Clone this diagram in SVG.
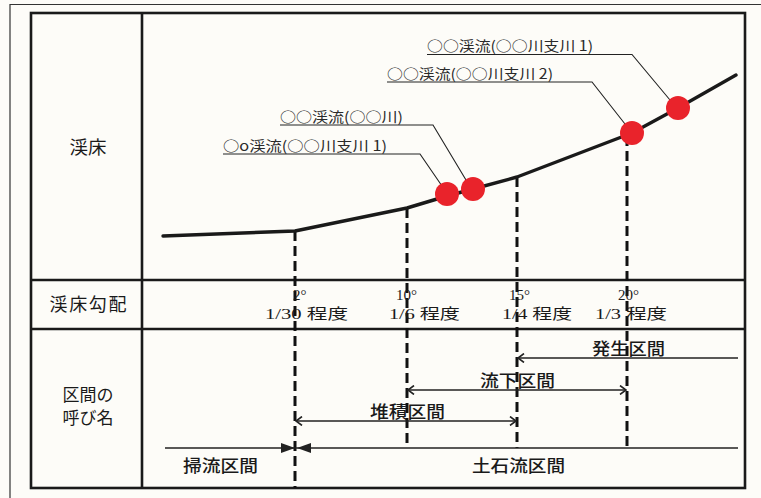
<svg xmlns="http://www.w3.org/2000/svg" width="761" height="498" viewBox="0 0 761 498">
<defs>
<style>
.frame{fill:none;stroke:#1a1a1a;stroke-width:2.6}
.thin{fill:none;stroke:#333;stroke-width:1.2}
.dash{fill:none;stroke:#111;stroke-width:3;stroke-dasharray:10 5}
.arr{fill:none;stroke:#222;stroke-width:1.3}
.lead{fill:none;stroke:#222;stroke-width:1.1}
.lbl{font-family:"Noto Sans CJK JP","Noto Sans",sans-serif;fill:#1a1a1a}
.name{font-family:"Noto Sans CJK JP","Noto Sans",sans-serif;fill:#2a2a2a;font-size:14px}
.deg{font-family:"Liberation Serif","Noto Sans CJK JP",serif;fill:#1a1a1a;font-size:15px}
.sec{font-family:"Noto Sans CJK JP","Noto Sans",sans-serif;fill:#1a1a1a;font-size:17px;font-weight:500}
.pt{fill:#e9232b}
</style>
<marker id="open" viewBox="0 0 10 10" refX="9" refY="5" markerWidth="10" markerHeight="10" markerUnits="userSpaceOnUse" orient="auto-start-reverse">
<path d="M3,0.5 L9,5 L3,9.5" fill="none" stroke="#222" stroke-width="1.6"/>
</marker>
</defs>
<rect width="761" height="498" fill="#fdfcf8"/>
<g id="outer-frame">
<path class="thin" d="M10,498 L10,4.5 L761,4.5"/>
</g>
<g id="table">
<rect class="frame" x="31" y="13" width="714" height="475"/>
<line class="frame" x1="142" y1="13" x2="142" y2="488"/>
<line class="frame" x1="31" y1="280" x2="745" y2="280"/>
<line class="frame" x1="31" y1="329" x2="745" y2="329"/>
</g>
<g id="row-labels">
<text class="lbl" x="88" y="154" font-size="18.5" text-anchor="middle">渓床</text>
<text class="lbl" x="88" y="311" font-size="18" text-anchor="middle" textLength="77">渓床勾配</text>
<text class="lbl" x="88" y="401" font-size="17" text-anchor="middle">区間の</text>
<text class="lbl" x="88" y="424" font-size="17" text-anchor="middle">呼び名</text>
</g>
<g id="connectors">
<line class="dash" x1="295" y1="231" x2="295" y2="488"/>
<line class="dash" x1="407" y1="208" x2="407" y2="448"/>
<line class="dash" x1="517" y1="177" x2="517" y2="448"/>
<line class="dash" x1="627" y1="136" x2="627" y2="446" stroke-width="2.4"/>
<line class="arr" x1="518" y1="358" x2="738" y2="358" marker-start="url(#open)"/>
<line class="arr" x1="408" y1="390" x2="626" y2="390" marker-start="url(#open)" marker-end="url(#open)"/>
<line class="arr" x1="296" y1="421" x2="516" y2="421" marker-start="url(#open)" marker-end="url(#open)"/>
<line class="arr" x1="165" y1="448" x2="738" y2="448"/>
<path d="M281,443 L295,448 L281,453 Z" fill="#222"/>
<path d="M311,443 L297,448 L311,453 Z" fill="#222"/>
<path class="lead" d="M427,54.5 L632,54.5 L670,100"/>
<path class="lead" d="M387,82 L592,82 L625,124"/>
<path class="lead" d="M280,125 L433,125 L466,180"/>
<path class="lead" d="M223,154 L420,154 L442,186"/>
</g>
<g id="riverbed">
<path d="M163,236 L295,231 L407,208 L447,196 L473,189 L517,177 L632,133 L678,108 L736,75" fill="none" stroke="#1a1a1a" stroke-width="3.4" stroke-linejoin="round" stroke-linecap="round"/>
</g>
<g id="points">
<circle class="pt" cx="447" cy="194" r="12"/>
<circle class="pt" cx="473" cy="189" r="12"/>
<circle class="pt" cx="632" cy="133" r="12"/>
<circle class="pt" cx="678" cy="108" r="12"/>
</g>
<g id="point-labels">
<text class="name" x="427" y="51" textLength="166" lengthAdjust="spacingAndGlyphs">○○渓流(○○川支川 1)</text>
<text class="name" x="387" y="79" textLength="166" lengthAdjust="spacingAndGlyphs">○○渓流(○○川支川 2)</text>
<text class="name" x="280" y="122" textLength="123" lengthAdjust="spacingAndGlyphs">○○渓流(○○川)</text>
<text class="name" x="223" y="151" textLength="164" lengthAdjust="spacingAndGlyphs">○o渓流(○○川支川 1)</text>
</g>
<g id="slopes">
<text class="deg" x="293" y="300" font-size="13">2°</text>
<text class="deg" x="265" y="319" textLength="83" lengthAdjust="spacingAndGlyphs">1/30 程度</text>
<text class="deg" x="396" y="300" font-size="13">10°</text>
<text class="deg" x="389" y="319" textLength="71" lengthAdjust="spacingAndGlyphs">1/6 程度</text>
<text class="deg" x="509" y="300" font-size="13">15°</text>
<text class="deg" x="502" y="319" textLength="70" lengthAdjust="spacingAndGlyphs">1/4 程度</text>
<text class="deg" x="618" y="300" font-size="13">20°</text>
<text class="deg" x="595" y="319" textLength="72" lengthAdjust="spacingAndGlyphs">1/3 程度</text>
</g>
<g id="sections">
<text class="sec" x="592" y="355" textLength="73" lengthAdjust="spacingAndGlyphs">発生区間</text>
<text class="sec" x="480" y="387" textLength="75" lengthAdjust="spacingAndGlyphs">流下区間</text>
<text class="sec" x="370" y="418" textLength="75" lengthAdjust="spacingAndGlyphs">堆積区間</text>
<text class="sec" x="183" y="472" textLength="75" lengthAdjust="spacingAndGlyphs">掃流区間</text>
<text class="sec" x="472" y="472" textLength="93" lengthAdjust="spacingAndGlyphs">土石流区間</text>
</g>
</svg>
